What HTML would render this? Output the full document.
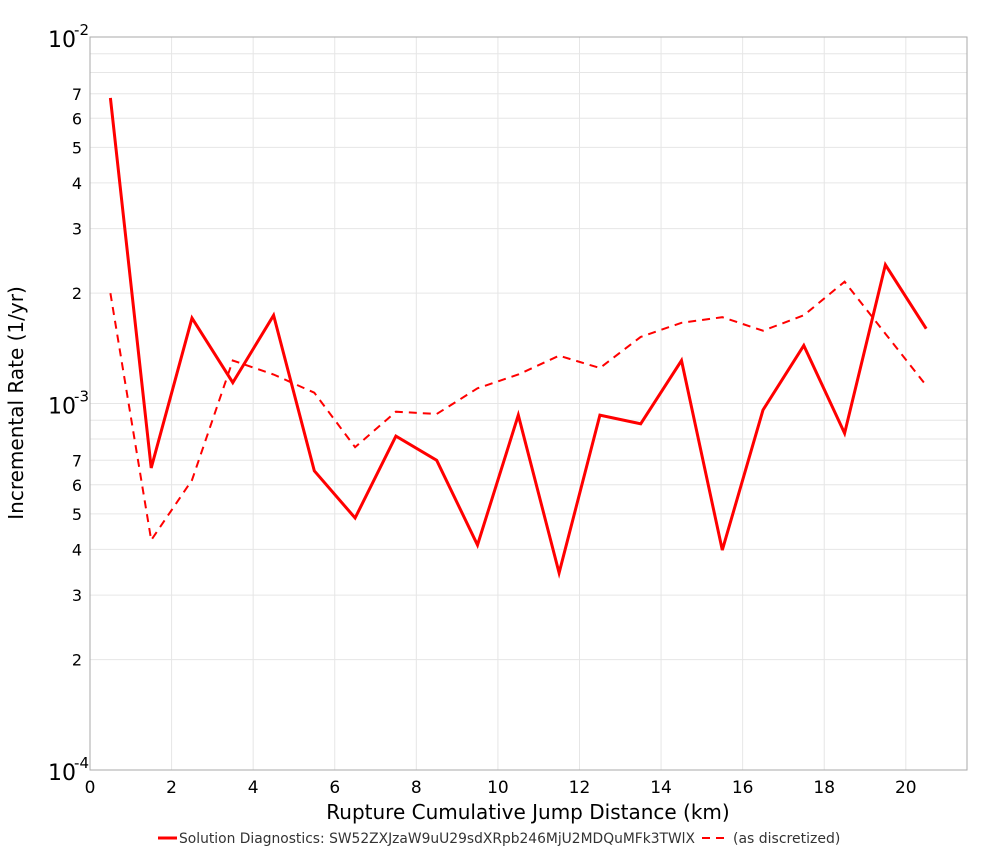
<!DOCTYPE html>
<html><head><meta charset="utf-8"><style>
body{margin:0;background:#fff;font-family:"DejaVu Sans","Liberation Sans",sans-serif;}
</style></head><body>
<svg id="chart" width="1000" height="850" xmlns="http://www.w3.org/2000/svg"></svg>
<script>
const xCats=[0.5,1.5,2.5,3.5,4.5,5.5,6.5,7.5,8.5,9.5,10.5,11.5,12.5,13.5,14.5,15.5,16.5,17.5,18.5,19.5,20.5];
const solidVals=[6.82e-3,6.67e-4,1.71e-3,1.14e-3,1.74e-3,6.55e-4,4.87e-4,8.15e-4,7.0e-4,4.11e-4,9.3e-4,3.45e-4,9.3e-4,8.8e-4,1.31e-3,3.98e-4,9.6e-4,1.44e-3,8.3e-4,2.39e-3,1.6e-3];
const dashVals=[2.0e-3,4.24e-4,6.18e-4,1.31e-3,1.2e-3,1.07e-3,7.6e-4,9.5e-4,9.36e-4,1.10e-3,1.2e-3,1.35e-3,1.25e-3,1.52e-3,1.66e-3,1.72e-3,1.58e-3,1.74e-3,2.15e-3,1.55e-3,1.12e-3];
const xTicks=[0,2,4,6,8,10,12,14,16,18,20];
const yMinorTicks=[2,3,4,5,6,7];
const decades=[-4,-3,-2];

const svg=document.getElementById('chart');
const NS='http://www.w3.org/2000/svg';
const L=90,R=967,T=37,B=770;
const xMax=21.5;
function X(v){return L+v/xMax*(R-L);}
function Y(v){return B-(Math.log10(v)+4)/2*(B-T);}
function mk(tag,attrs,parent){const e=document.createElementNS(NS,tag);for(const k in attrs)e.setAttribute(k,attrs[k]);(parent||svg).appendChild(e);return e;}

const grid=mk('g',{});


for(const t of xTicks){if(t===0)continue;mk('line',{x1:X(t),x2:X(t),y1:T,y2:B,stroke:'#e6e6e6','stroke-width':1},grid);}
for(const d of [-4,-3]){for(let m=1;m<=9;m++){const v=m*Math.pow(10,d);mk('line',{x1:L,x2:R,y1:Y(v),y2:Y(v),stroke:'#e6e6e6','stroke-width':1},grid);}}

const frame=mk('rect',{x:L,y:T,width:R-L,height:B-T,fill:'none',stroke:'#aaa','stroke-width':1});



const xt=mk('g',{'font-size':17,fill:'#000','text-anchor':'middle'});


for(const t of xTicks){const e=mk('text',{x:X(t),y:793},xt);e.textContent=t;}

const yt=mk('g',{'font-size':16,fill:'#000','text-anchor':'end'});


for(const d of [-4,-3]){for(const m of yMinorTicks){const e=mk('text',{x:82,y:Y(m*Math.pow(10,d))+6},yt);e.textContent=m;}}
for(const d of decades){const e=mk('text',{x:76,y:Y(Math.pow(10,d))+10,'font-size':22},yt);e.textContent='10';const s=mk('text',{x:89,y:Y(Math.pow(10,d))-2,'font-size':15},yt);s.textContent=d;}

function line(vals,dash,name){
 const pts=xCats.map((c,i)=>X(c).toFixed(1)+','+Y(vals[i]).toFixed(1)).join(' ');
 const p=mk('polyline',{points:pts,fill:'none',stroke:'#f00','stroke-width':dash?2:3,'stroke-dasharray':dash?'8,6':'none','stroke-linejoin':'miter'});
 
 
}
line(dashVals,true,'as-discretized-series');
line(solidVals,false,'solution-series');

const xl=mk('text',{x:528,y:819,'font-size':20,'text-anchor':'middle'});
xl.textContent='Rupture Cumulative Jump Distance (km)';


const yl=mk('text',{x:23,y:403,'font-size':20,'text-anchor':'middle',transform:'rotate(-90 23 403)'});
yl.textContent='Incremental Rate (1/yr)';



const lg=mk('g',{'font-size':14});


const l1=mk('g',{},lg);


mk('line',{x1:158,x2:177,y1:838,y2:838,stroke:'#f00','stroke-width':3},l1);
const t1=mk('text',{x:179,y:843,fill:'#333',textLength:516,lengthAdjust:'spacingAndGlyphs'},l1);t1.textContent='Solution Diagnostics: SW52ZXJzaW9uU29sdXRpb246MjU2MDQuMFk3TWlX';
const l2=mk('g',{},lg);


mk('line',{x1:702,x2:724,y1:838,y2:838,stroke:'#f00','stroke-width':2,'stroke-dasharray':'8,6'},l2);
const t2=mk('text',{x:733,y:843,fill:'#333'},l2);t2.textContent='(as discretized)';
</script>
</body></html>
